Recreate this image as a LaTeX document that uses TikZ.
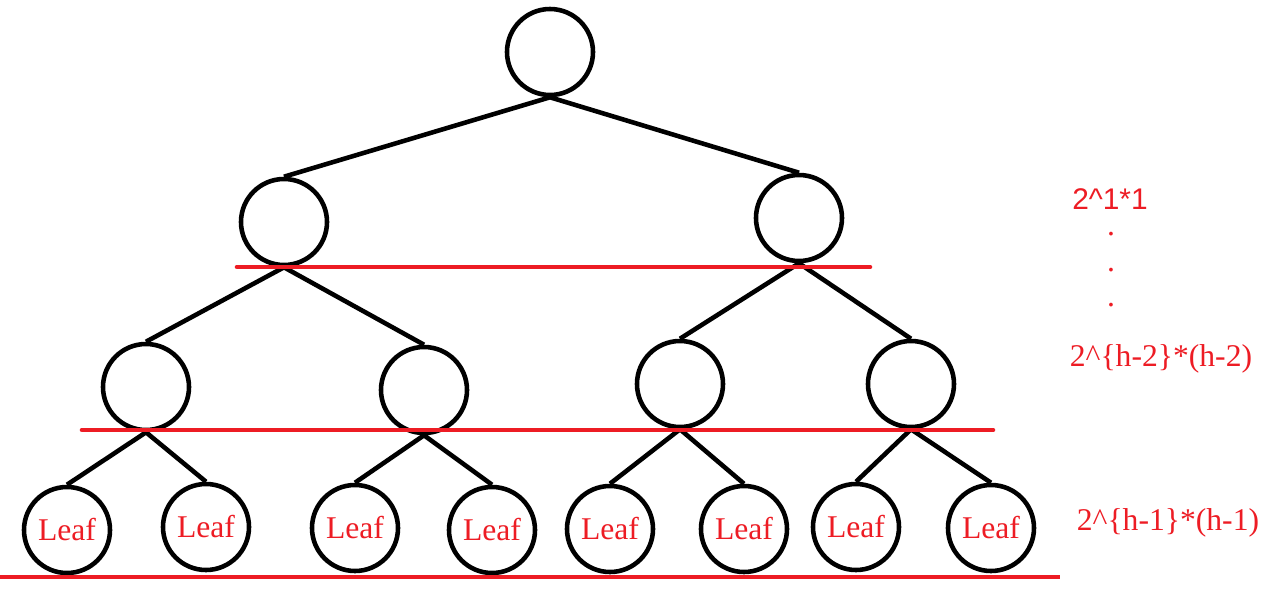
\documentclass[tikz,border=0pt]{standalone}
\usepackage{fontspec}
\setmainfont{Liberation Serif}
\newfontfamily\arialfont{Liberation Sans}
\usepackage{xcolor}
\usepackage{tikz}
\definecolor{paintred}{RGB}{237,28,36}
\usetikzlibrary{positioning,calc}

\tikzset{
    treenode/.style={draw, circle, line width=2.6pt, minimum size=1.72cm, inner sep=0pt,
        font=\fontsize{18}{20}\selectfont, text=paintred},
    edge/.style={line width=2.6pt},
    levelline/.style={draw=paintred, line width=2.6pt, line cap=round},
    sumlabel/.style={text=paintred, font=\fontsize{18}{20}\selectfont, inner sep=0pt}
}

\begin{document}
\begin{tikzpicture}[x=1cm,y=1cm]
    \useasboundingbox (0,0) rectangle (25.36,-11.8);

    % nodes
    \node[treenode] (root) at (11.00,-1.04) {};
    \node[treenode] (l) at (5.68,-4.44) {};
    \node[treenode] (r) at (15.98,-4.36) {};
    \node[treenode] (ll) at (2.92,-7.74) {};
    \node[treenode] (lr) at (8.48,-7.80) {};
    \node[treenode] (rl) at (13.60,-7.68) {};
    \node[treenode] (rr) at (18.22,-7.68) {};
    \node[treenode] (lll) at (1.34,-10.60) {Leaf};
    \node[treenode] (llr) at (4.12,-10.54) {Leaf};
    \node[treenode] (lrl) at (7.10,-10.56) {Leaf};
    \node[treenode] (lrr) at (9.84,-10.60) {Leaf};
    \node[treenode] (rll) at (12.20,-10.58) {Leaf};
    \node[treenode] (rlr) at (14.88,-10.58) {Leaf};
    \node[treenode] (rrl) at (17.12,-10.54) {Leaf};
    \node[treenode] (rrr) at (19.82,-10.56) {Leaf};

    % edges
    \draw[edge] (root.south) -- (l.north);
    \draw[edge] (root.south) -- (r.north);
    \draw[edge] (l.south) -- (ll.north);
    \draw[edge] (l.south) -- (lr.north);
    \draw[edge] (r.south) -- (rl.north);
    \draw[edge] (r.south) -- (rr.north);
    \draw[edge] (ll.south) -- (lll.north);
    \draw[edge] (ll.south) -- (llr.north);
    \draw[edge] (lr.south) -- (lrl.north);
    \draw[edge] (lr.south) -- (lrr.north);
    \draw[edge] (rl.south) -- (rll.north);
    \draw[edge] (rl.south) -- (rlr.north);
    \draw[edge] (rr.south) -- (rrl.north);
    \draw[edge] (rr.south) -- (rrr.north);

    % level lines
    \coordinate (a1) at (4.74,-5.34);
    \coordinate (b1) at (17.40,-5.34);
    \coordinate (a2) at (1.64,-8.60);
    \coordinate (b2) at (19.86,-8.60);
    \coordinate (a3) at (0.00,-11.54);
    \coordinate (b3) at (21.20,-11.54);
    \draw[levelline] (a1) -- (b1);
    \draw[levelline] (a2) -- (b2);
    \draw[levelline, line cap=butt] (a3) -- (b3);

    % sums
    \node[sumlabel, font=\arialfont\fontsize{17}{20}\selectfont] (s1) at (22.20,-3.98) {2\string^1*1};
    \node[sumlabel, anchor=base] (d1) at (22.22,-4.70) {.};
    \node[sumlabel, anchor=base] (d2) at (22.22,-5.42) {.};
    \node[sumlabel, anchor=base] (d3) at (22.22,-6.12) {.};
    \node[sumlabel] (s2) at (23.22,-7.18) {2\string^\{h-2\}*(h-2)};
    \node[sumlabel] (s3) at (23.36,-10.46) {2\string^\{h-1\}*(h-1)};
\end{tikzpicture}
\end{document}
